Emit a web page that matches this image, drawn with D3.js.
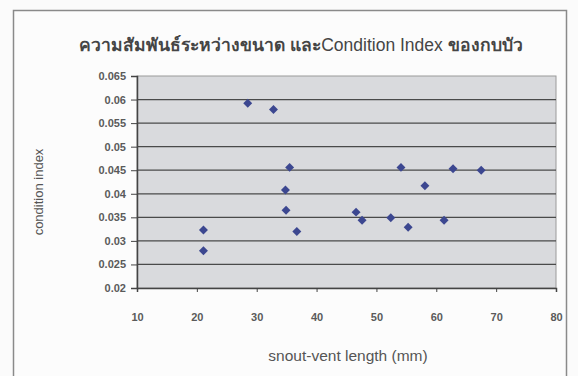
<!DOCTYPE html>
<html>
<head>
<meta charset="utf-8">
<script src="https://cdn.jsdelivr.net/npm/d3@7"></script>
<style>
  body { margin: 0; background: #fbfbfb; }
  svg { display: block; font-family: "Liberation Sans", Arial, sans-serif; }
</style>
</head>
<body>
<div id="chart"></div>
<script>
// snout-vent length (mm) vs condition index
const svl = [21.1, 21.1, 28.5, 32.8, 35.5, 34.8, 34.9, 36.7, 46.6, 47.6, 54.1, 52.4, 55.3, 58.1, 61.3, 62.8, 67.5];
const conditionIndex = [0.0323, 0.0279, 0.0592, 0.0579, 0.0456, 0.0408, 0.0365, 0.0320, 0.0361, 0.0344, 0.0456, 0.0349, 0.0329, 0.0417, 0.0344, 0.0453, 0.0450];
const xTicks = [10, 20, 30, 40, 50, 60, 70, 80];
const yTicks = [0.02, 0.025, 0.03, 0.035, 0.04, 0.045, 0.05, 0.055, 0.06, 0.065];

const W = 578, H = 376;
const margin = { top: 76, right: 22, bottom: 88, left: 137 };
const width = W - margin.left - margin.right;
const height = H - margin.top - margin.bottom;

const svg = d3.select("#chart").append("svg").attr("width", W).attr("height", H);

// outer chart frame
svg.append("rect")
  .attr("x", 13.5).attr("y", 10.5)
  .attr("width", 553).attr("height", 370)
  .attr("fill", "#fcfcfc")
  .attr("stroke", "#8a8a8a").attr("stroke-width", 1.5);

// title: Thai part looks heavy in the scan, the Latin part is regular
const title = svg.append("text")
  .attr("x", 301).attr("y", 51)
  .attr("text-anchor", "middle")
  .style("font-size", "17.5px")
  .style("fill", "#454545");
title.append("tspan").style("font-weight", "bold").text("ความสัมพันธ์ระหว่างขนาด และ");
title.append("tspan").text("Condition Index ");
title.append("tspan").style("font-weight", "bold").text("ของกบบัว");

const g = svg.append("g").attr("transform", `translate(${margin.left},${margin.top})`);

const x = d3.scaleLinear().domain([10, 80]).range([0, width]);
const y = d3.scaleLinear().domain([0.02, 0.065]).range([height, 0]);

// plot area
g.append("rect")
  .attr("width", width).attr("height", height)
  .attr("fill", "#d9dadd")
  .attr("stroke", "#9a9a9a");

// gridlines
g.selectAll("line.grid")
  .data(yTicks.slice(1, -1))
  .join("line")
  .attr("class", "grid")
  .attr("x1", 0).attr("x2", width)
  .attr("y1", d => y(d)).attr("y2", d => y(d))
  .attr("stroke", "#4a4a4a").attr("stroke-width", 1.2);

const xAxis = d3.axisBottom(x).tickValues(xTicks).tickSize(4).tickPadding(21);
const yAxis = d3.axisLeft(y).tickValues(yTicks).tickSize(6).tickPadding(5).tickFormat(d => d3.format("")(+d.toFixed(3)));

const styleAxis = a => {
  a.select(".domain").attr("stroke", "#444").attr("stroke-width", 1.5);
  a.selectAll(".tick line").attr("stroke", "#444");
  a.selectAll("text").style("font-size", "11px").style("font-weight", "bold").style("fill", "#5a5a5a");
};

g.append("g").attr("transform", `translate(0,${height})`).call(xAxis).call(styleAxis);
g.append("g").call(yAxis).call(styleAxis);

// axis titles
svg.append("text")
  .attr("x", 348).attr("y", 361)
  .attr("text-anchor", "middle")
  .style("font-size", "15.5px")
  .style("fill", "#555")
  .text("snout-vent length (mm)");

svg.append("text")
  .attr("transform", `translate(43,${margin.top + height / 2 + 10}) rotate(-90)`)
  .attr("text-anchor", "middle")
  .style("font-size", "13px")
  .style("fill", "#555")
  .text("condition index");

// diamond markers (square turned 45 degrees, like Excel's marker)
const diamond = d3.symbol().type(d3.symbolSquare).size(40);
g.selectAll("path.pt")
  .data(svl.map((v, i) => [v, conditionIndex[i]]))
  .join("path")
  .attr("class", "pt")
  .attr("d", diamond)
  .attr("transform", d => `translate(${x(d[0])},${y(d[1])}) rotate(45)`)
  .attr("fill", "#3c4790");
</script>
</body>
</html>
